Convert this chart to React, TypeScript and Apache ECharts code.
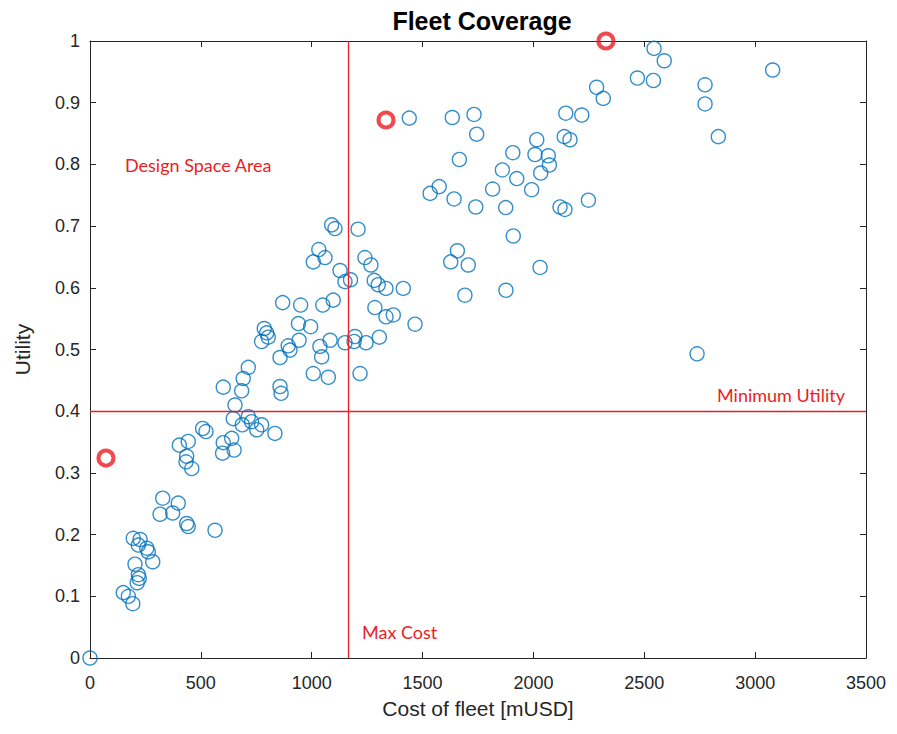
import React, { useEffect, useRef } from "react";
import * as echarts from "echarts";

const costValues: number[] = [
  0, 150, 173, 193, 195, 226, 218, 256, 263, 203, 283, 218, 222, 213,
  328, 398, 316, 373, 436, 443, 564, 403, 443, 436, 433, 459, 508, 523,
  601, 639, 598, 650, 834, 752, 714, 729, 687, 774, 654, 646, 601, 684,
  691, 714, 857, 862,
  786, 797, 804, 774, 869, 950, 894, 902, 857, 940, 995, 943, 1037, 1045,
  1083, 1007, 1075, 1150, 1195, 1191, 1245, 1305, 1218, 1050, 1097,
  1090, 1105, 1209, 1032, 1060, 1007, 1240, 1267, 1128, 1150, 1175, 1282,
  1300, 1335, 1413, 1285, 1335, 1368, 1466,
  1440, 1634, 1732, 1744, 1666, 2146, 2218, 2315, 2285, 2015, 2139, 2165,
  1907, 2007, 2067, 2072, 1860, 1925, 2033, 1816, 1992, 1575, 1534, 1642,
  1740, 1875, 2120, 2142, 2248, 1909, 1657, 1627, 1706, 2030, 1691, 1876,
  2544, 2590, 3079, 2469, 2541, 2774, 2774, 2834, 2738,
];
const utilityValues: number[] = [
  0, 0.106, 0.1, 0.088, 0.194, 0.192, 0.183, 0.178, 0.172, 0.152, 0.156, 0.135, 0.129, 0.122,
  0.259, 0.251, 0.233, 0.235, 0.218, 0.213, 0.207, 0.345, 0.351, 0.327, 0.318, 0.307, 0.372, 0.367,
  0.349, 0.356, 0.332, 0.337, 0.364, 0.37, 0.391, 0.383, 0.378, 0.378, 0.41, 0.388, 0.439, 0.433,
  0.453, 0.471, 0.44, 0.429,
  0.534, 0.527, 0.52, 0.513, 0.576, 0.572, 0.506, 0.499, 0.487, 0.542, 0.537, 0.515, 0.505, 0.488,
  0.515, 0.461, 0.455, 0.511, 0.521, 0.513, 0.511, 0.52, 0.461, 0.572, 0.58,
  0.702, 0.696, 0.695, 0.662, 0.649, 0.642, 0.649, 0.637, 0.628, 0.61, 0.613, 0.612,
  0.605, 0.599, 0.599, 0.568, 0.553, 0.556, 0.541,
  0.875, 0.876, 0.881, 0.849, 0.808, 0.883, 0.88, 0.907, 0.925, 0.84, 0.845, 0.84,
  0.819, 0.816, 0.814, 0.799, 0.791, 0.777, 0.786, 0.76, 0.759, 0.764, 0.753, 0.744,
  0.731, 0.73, 0.731, 0.727, 0.742, 0.684, 0.66, 0.642, 0.637, 0.633, 0.588, 0.596,
  0.988, 0.968, 0.953, 0.94, 0.936, 0.929, 0.898, 0.845, 0.493,
];

const highlightCost: number[] = [72, 1335, 2327];
const highlightUtility: number[] = [0.324, 0.872, 1.0];

const maxCost = 1163;
const minUtility = 0.4;

const titleText = "Fleet Coverage";
const xAxisName = "Cost of fleet [mUSD]";
const yAxisName = "Utility";
const annotations = ["Design Space Area", "Minimum Utility", "Max Cost"];

const AXIS_COLOR = "#262626";
const BLUE = "#0072BD";
const RED = "#ec1c24";
const FONT = "Arial, 'Liberation Sans', sans-serif";
const NOTE_FONT = "Lato, 'Open Sans', sans-serif";

export default function App() {
  const ref = useRef<HTMLDivElement>(null);
  useEffect(() => {
    if (!ref.current) return;
    const chart = echarts.init(ref.current, undefined, { renderer: "svg" });
    const pts = costValues.map((c, i) => [c, utilityValues[i]]);
    const red = highlightCost.map((c, i) => [c, highlightUtility[i]]);
    const axisCommon = {
      type: "value" as const,
      axisLine: { show: true, onZero: false, lineStyle: { color: AXIS_COLOR, width: 1 } },
      axisTick: { show: true, inside: true, length: 6, lineStyle: { color: AXIS_COLOR } },
      splitLine: { show: false },
    };
    const noteStyle = (text: string) => ({
      text,
      fontFamily: NOTE_FONT,
      fontSize: 18,
      fill: RED,
      align: "left",
      verticalAlign: "middle",
    });
    chart.setOption({
      animation: false,
      backgroundColor: "#ffffff",
      title: {
        text: titleText,
        left: 477,
        textAlign: "center",
        top: 3,
        textStyle: { fontFamily: FONT, fontSize: 25, fontWeight: "bold", color: "#000" },
      },
      grid: { left: 90, right: 31, top: 41, bottom: 76, show: false },
      xAxis: [
        {
          ...axisCommon,
          min: 0,
          max: 3500,
          interval: 500,
          position: "bottom",
          name: xAxisName,
          nameLocation: "middle",
          nameGap: 40,
          nameTextStyle: { fontFamily: FONT, fontSize: 21, color: AXIS_COLOR },
          axisLabel: {
            fontFamily: FONT,
            fontSize: 18,
            color: AXIS_COLOR,
            margin: 16,
            formatter: (v: number) => String(v),
          },
        },
        {
          ...axisCommon,
          min: 0,
          max: 3500,
          interval: 500,
          position: "top",
          axisLabel: { show: false },
        },
      ],
      yAxis: [
        {
          ...axisCommon,
          min: 0,
          max: 1,
          interval: 0.1,
          position: "left",
          name: yAxisName,
          nameLocation: "middle",
          nameGap: 57,
          nameTextStyle: { fontFamily: FONT, fontSize: 21, color: AXIS_COLOR },
          axisLabel: { fontFamily: FONT, fontSize: 18, color: AXIS_COLOR, margin: 10 },
        },
        {
          ...axisCommon,
          min: 0,
          max: 1,
          interval: 0.1,
          position: "right",
          axisLabel: { show: false },
        },
      ],
      series: [
        {
          type: "scatter",
          data: pts,
          symbol: "circle",
          symbolSize: 14,
          itemStyle: { color: "rgba(0,0,0,0)", borderColor: BLUE, borderWidth: 1.4 },
          markLine: {
            silent: true,
            symbol: "none",
            label: { show: false },
            lineStyle: { color: RED, width: 1.3, type: "solid" },
            data: [{ xAxis: maxCost }, { yAxis: minUtility }],
          },
          z: 3,
        },
        {
          type: "scatter",
          data: red,
          symbol: "circle",
          symbolSize: 15,
          itemStyle: { color: "rgba(0,0,0,0)", borderColor: RED, borderWidth: 4 },
          z: 4,
        },
      ],
      graphic: [
        { type: "text", x: 125, y: 165, style: noteStyle(annotations[0]) },
        { type: "text", x: 717, y: 395, style: noteStyle(annotations[1]) },
        { type: "text", x: 362, y: 632, style: noteStyle(annotations[2]) },
      ],
    });
    return () => chart.dispose();
  }, []);
  return <div ref={ref} style={{ width: 897, height: 734, position: "absolute", left: 0, top: 0 }} />;
}
